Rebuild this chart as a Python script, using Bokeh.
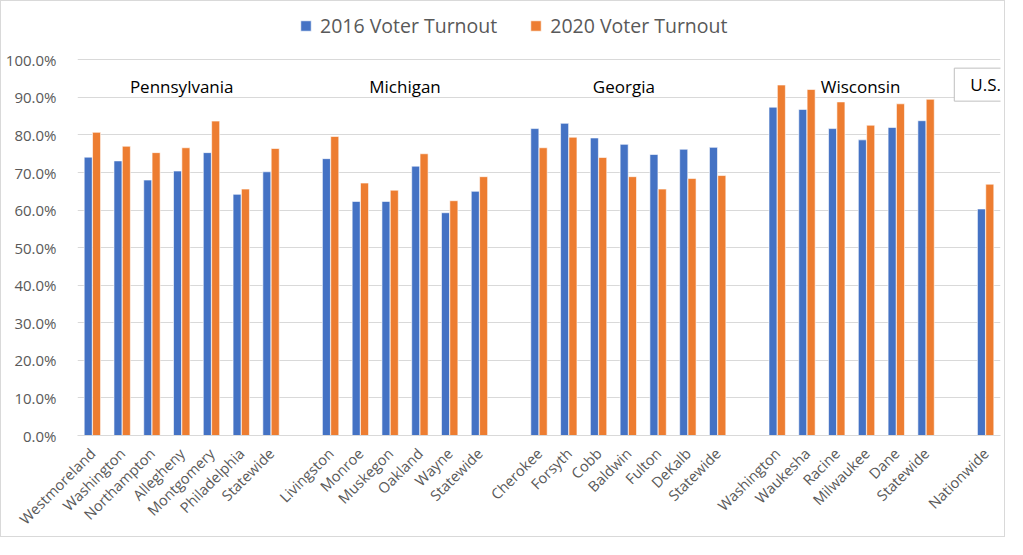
import math
from bokeh.plotting import figure
from bokeh.models import (Range1d, FixedTicker, Label, Legend, LegendItem,
                          ColumnDataSource)
from bokeh.transform import dodge
from bokeh.embed import file_html
from bokeh.resources import INLINE

# ---------------- data ----------------
groups = ["Pennsylvania", "Michigan", "Georgia", "Wisconsin", "U.S."]

pa_names = ["Westmoreland", "Washington", "Northampton", "Allegheny",
            "Montgomery", "Philadelphia", "Statewide"]
pa_2016 = [74.1, 73.1, 68.0, 70.4, 75.3, 64.2, 70.2]
pa_2020 = [80.7, 77.0, 75.3, 76.6, 83.7, 65.6, 76.4]

mi_names = ["Livingston", "Monroe", "Muskegon", "Oakland", "Wayne", "Statewide"]
mi_2016 = [73.7, 62.3, 62.3, 71.7, 59.3, 65.0]
mi_2020 = [79.6, 67.2, 65.3, 75.0, 62.5, 68.9]

ga_names = ["Cherokee", "Forsyth", "Cobb", "Baldwin", "Fulton", "DeKalb", "Statewide"]
ga_2016 = [81.7, 83.1, 79.2, 77.5, 74.8, 76.2, 76.7]
ga_2020 = [76.6, 79.4, 74.0, 68.9, 65.6, 68.4, 69.2]

wi_names = ["Washington", "Waukesha", "Racine", "Milwaukee", "Dane", "Statewide"]
wi_2016 = [87.4, 86.8, 81.7, 78.7, 82.0, 83.8]
wi_2020 = [93.3, 92.1, 88.8, 82.6, 88.3, 89.5]

us_names = ["Nationwide"]
us_2016 = [60.3]
us_2020 = [66.9]

y_ticks = [0, 10, 20, 30, 40, 50, 60, 70, 80, 90, 100]
series_labels = ["2016 Voter Turnout", "2020 Voter Turnout"]

# ---------------- build positions ----------------
group_data = [(pa_names, pa_2016, pa_2020), (mi_names, mi_2016, mi_2020),
              (ga_names, ga_2016, ga_2020), (wi_names, wi_2016, wi_2020),
              (us_names, us_2016, us_2020)]
xs, names, v16, v20, centers = [], [], [], [], []
pos = 0
for nm, a, b in group_data:
    start = pos
    for i in range(len(nm)):
        xs.append(pos)
        names.append(nm[i])
        v16.append(a[i])
        v20.append(b[i])
        pos += 1
    centers.append((start + pos - 1) / 2)
    pos += 1
n_slots = pos - 1

src = ColumnDataSource(dict(x=xs, v16=v16, v20=v20))

BLUE = "#4472C4"
ORANGE = "#ED7D31"
FONT = "Open Sans"

p = figure(width=1005, height=537, output_backend="svg", toolbar_location=None,
           x_range=Range1d(-0.5, n_slots - 0.5), y_range=Range1d(0, 115.0),
           min_border_left=76, min_border_right=6, min_border_top=2,
           min_border_bottom=96,
           styles={"border": "1px solid #d9d9d9"})
p.outline_line_color = None
p.background_fill_color = "white"
p.border_fill_color = "white"

r1 = p.vbar(x=dodge("x", -0.14), top="v16", width=0.27, source=src,
            fill_color=BLUE, line_color="white", line_width=0.6)
r2 = p.vbar(x=dodge("x", 0.14), top="v20", width=0.27, source=src,
            fill_color=ORANGE, line_color="white", line_width=0.6)

# axes
p.xgrid.grid_line_color = None
p.ygrid.grid_line_color = "#d9d9d9"
p.ygrid.grid_line_width = 1

p.yaxis.ticker = FixedTicker(ticks=y_ticks)
p.yaxis.major_label_overrides = {t: f"{t:.1f}%" for t in y_ticks}
p.yaxis.axis_line_color = None
p.yaxis.major_tick_line_color = None
p.yaxis.minor_tick_line_color = None
p.yaxis.major_label_text_color = "#595959"
p.yaxis.major_label_text_font = FONT
p.yaxis.major_label_text_font_size = "15px"
p.yaxis.major_label_standoff = 15

p.xaxis.ticker = FixedTicker(ticks=xs)
p.xaxis.major_label_overrides = {x: n for x, n in zip(xs, names)}
p.xaxis.axis_line_color = "#d9d9d9"
p.xaxis.major_tick_line_color = None
p.xaxis.minor_tick_line_color = None
p.xaxis.major_label_orientation = math.pi / 4
p.xaxis.major_label_text_color = "#595959"
p.xaxis.major_label_text_font = FONT
p.xaxis.major_label_text_font_size = "14.6px"
p.xaxis.major_label_standoff = 9

# group labels (small horizontal nudges as in the original placement)
label_nudge = [0.0, 0.0, -0.15, 0.3]
for g, c, dx in zip(groups[:-1], centers[:-1], label_nudge):
    p.add_layout(Label(x=c + dx, y=92.9, text=g, text_align="center",
                       text_baseline="middle", text_font=FONT,
                       text_font_size="17px", text_color="#000000"))
p.add_layout(Label(x=centers[-1], y=93.4, text=groups[-1], text_align="center",
                   text_baseline="middle", text_font=FONT, text_font_size="17px",
                   text_color="#000000", border_line_color="#bfbfbf",
                   background_fill_color="white", padding=(16, 5)))

legend = Legend(items=[LegendItem(label=series_labels[0], renderers=[r1]),
                       LegendItem(label=series_labels[1], renderers=[r2])],
                orientation="horizontal", location=(222, 396),
                border_line_color=None, background_fill_alpha=0,
                label_text_font=FONT, label_text_font_size="19.5px",
                label_text_color="#595959", glyph_width=13, glyph_height=13,
                label_standoff=8, spacing=32, padding=0, margin=0)
p.add_layout(legend, "center")

open("out.html", "w").write(file_html(p, INLINE))
